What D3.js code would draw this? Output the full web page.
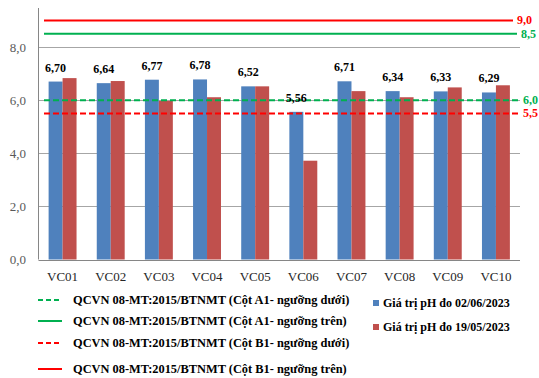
<!DOCTYPE html>
<html><head><meta charset="utf-8">
<script src="https://cdn.jsdelivr.net/npm/d3@7"></script>
<style>body{margin:0;background:#fff}svg{display:block}</style>
</head><body>
<svg id="c" width="539" height="378"></svg>
<script>
const categories = ["VC01","VC02","VC03","VC04","VC05","VC06","VC07","VC08","VC09","VC10"];
const seriesNames = ["Giá trị pH đo 02/06/2023","Giá trị pH đo 19/05/2023"];
const phJune = [6.70,6.64,6.77,6.78,6.52,5.56,6.71,6.34,6.33,6.29];
const phMay = [6.83,6.72,5.97,6.11,6.52,3.72,6.34,6.11,6.48,6.56];
const yTicks = [0,2,4,6,8];
const refNames = ["QCVN 08-MT:2015/BTNMT (Cột A1- ngưỡng dưới)","QCVN 08-MT:2015/BTNMT (Cột A1- ngưỡng trên)","QCVN 08-MT:2015/BTNMT (Cột B1- ngưỡng dưới)","QCVN 08-MT:2015/BTNMT (Cột B1- ngưỡng trên)"];
const refValues = [6.0,8.5,5.5,9.0];
const refLabels = ["6,0","8,5","5,5","9,0"];

const colors = ["#4F81BD","#C0504D"];
const refColors = ["#00B050","#00B050","#FF0000","#FF0000"];
const refDash = [true,false,true,false];
const fmt = v => v.toFixed(2).replace(".",",");

const svg = d3.select("#c");
const L = 38.5, R = 520, T = 8, B = 259.5;
const y = d3.scaleLinear().domain([0, 9.47]).range([B, T]);
const x0 = d3.scaleBand().domain(categories).range([L, R]).paddingInner(0.42).paddingOuter(0.21);
const x1 = d3.scaleBand().domain([0,1]).range([0, x0.bandwidth()]);

// gridlines
svg.append("g").selectAll("line").data(yTicks.filter(t=>t>0)).join("line")
  .attr("x1", L).attr("x2", R).attr("y1", d=>Math.round(y(d))+0.5).attr("y2", d=>Math.round(y(d))+0.5)
  .attr("stroke","#A6A6A6").attr("stroke-width",1);

// y axis labels
svg.append("g").selectAll("text").data(yTicks).join("text")
  .attr("x", 26).attr("y", d=>y(d)+4.5).attr("text-anchor","end")
  .attr("font-family","Liberation Serif").attr("font-size",13).attr("fill","#595959")
  .text(d=>d.toFixed(1).replace(".",","));

// bars
const series = [phJune, phMay];
const g = svg.append("g");
categories.forEach((c,i)=>{
  series.forEach((s,j)=>{
    g.append("rect").attr("x", x0(c)+x1(j)).attr("width", x1.bandwidth())
      .attr("y", y(s[i])).attr("height", B - y(s[i])).attr("fill", colors[j]);
  });
});

// axes lines
svg.append("line").attr("x1",L).attr("x2",L).attr("y1",T).attr("y2",B).attr("stroke","#868686");
svg.append("line").attr("x1",L).attr("x2",R).attr("y1",Math.round(B)+0.5).attr("y2",Math.round(B)+0.5).attr("stroke","#868686");

// x labels
svg.append("g").selectAll("text").data(categories).join("text")
  .attr("x", d=>x0(d)+x0.bandwidth()/2).attr("y", 281).attr("text-anchor","middle")
  .attr("font-family","Liberation Serif").attr("font-size",13).attr("fill","#262626").text(d=>d);

// reference lines
const refX1 = [519,517,519,513];
refValues.forEach((v,k)=>{
  svg.append("line").attr("x1",44).attr("x2",refX1[k]).attr("y1",y(v)).attr("y2",y(v))
    .attr("stroke",refColors[k]).attr("stroke-width",2)
    .attr("stroke-dasharray", refDash[k] ? "6,3" : null);
  svg.append("text").attr("x", refX1[k]+4).attr("y", y(v)+4)
    .attr("font-family","Liberation Serif").attr("font-weight","bold").attr("font-size",12)
    .attr("fill",refColors[k]).text(refLabels[k]);
});

// data labels (blue series)
svg.append("g").selectAll("text").data(categories).join("text")
  .attr("x", d=>x0(d)+x1(0)+x1.bandwidth()/2).attr("y",(d,i)=>y(phJune[i])-10)
  .attr("text-anchor","middle").attr("font-family","Liberation Serif").attr("font-weight","bold")
  .attr("font-size",12).attr("fill","#000").text((d,i)=>fmt(phJune[i]));

// legend: reference lines
const legY = [300, 321, 343, 369];
refNames.forEach((n,k)=>{
  svg.append("line").attr("x1",38).attr("x2",62).attr("y1",legY[k]).attr("y2",legY[k])
    .attr("stroke",refColors[k]).attr("stroke-width",2)
    .attr("stroke-dasharray", refDash[k] ? "5,3" : null);
  svg.append("text").attr("x",73).attr("y",legY[k]+4)
    .attr("font-family","Liberation Serif").attr("font-weight","bold").attr("font-size",12.4)
    .attr("fill","#000").text(n);
});
// legend: series
const sY = [303, 327];
seriesNames.forEach((n,j)=>{
  svg.append("rect").attr("x",373).attr("y",sY[j]-3).attr("width",6).attr("height",6).attr("fill",colors[j]);
  svg.append("text").attr("x",383).attr("y",sY[j]+4)
    .attr("font-family","Liberation Serif").attr("font-weight","bold").attr("font-size",12)
    .attr("fill","#000").text(n);
});
</script>
</body></html>
